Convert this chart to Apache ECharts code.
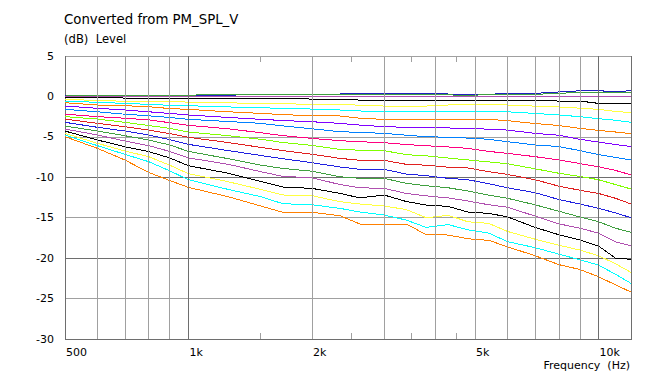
<!DOCTYPE html>
<html><head><meta charset="utf-8">
<script src="https://cdn.jsdelivr.net/npm/echarts@6/dist/echarts.min.js"></script>
<style>html,body{margin:0;padding:0;background:#fff}#c{width:654px;height:374px}
#c svg path,#c svg line,#c svg polyline,#c svg rect{shape-rendering:crispEdges}</style>
</head><body><div id="c"></div>
<script>
const freqs = [500, 600, 700, 800, 900, 1000, 1250, 1500, 1700, 2000, 2340, 2620, 3000, 3400, 3800, 4300, 4800, 5400, 6000, 7000, 8000, 9000, 10000, 11000, 12000];
const s01 = [0.1, 0.17, 0.17, 0.12, 0.12, 0.12, 0.15, 0.26, 0.26, 0.26, 0.3, 0.32, 0.38, 0.38, 0.38, 0.3, 0.26, 0.26, 0.38, 0.38, 0.55, 0.7, 0.7, 0.6, 0.7];
const s02 = [0.05, 0.1, 0.1, 0.12, 0.15, 0.17, 0.2, 0.2, 0.22, 0.26, 0.26, 0.26, 0.26, 0.26, 0.26, 0.2, 0.09, 0.26, 0.26, 0.26, 0.38, 0.5, 0.5, 0.5, 0.5];
const s03 = [0, 0, 0, 0, 0, 0, 0, 0, 0, 0, 0, 0, 0, 0, 0, 0, 0, 0, 0, 0, 0, 0, 0, 0, 0];
const s04 = [-0.1, -0.15, -0.2, -0.2, -0.2, -0.24, -0.28, -0.3, -0.3, -0.32, -0.36, -0.45, -0.53, -0.53, -0.53, -0.45, -0.45, -0.45, -0.45, -0.53, -0.57, -0.57, -0.86, -0.86, -0.86];
const s05 = [-0.36, -0.5, -0.6, -0.65, -0.65, -0.7, -0.8, -0.85, -0.9, -0.98, -0.94, -1.1, -1.19, -1.19, -1.19, -1.06, -1.06, -1.06, -1.06, -1.2, -1.3, -1.45, -1.6, -1.85, -2.0];
const s06 = [-0.57, -0.73, -0.86, -0.98, -1.1, -1.15, -1.3, -1.4, -1.48, -1.56, -1.68, -1.8, -1.89, -1.89, -1.85, -1.81, -1.81, -1.81, -1.9, -2.1, -2.3, -2.5, -2.75, -2.95, -3.2];
const s07 = [-0.78, -1.06, -1.15, -1.27, -1.5, -1.6, -1.9, -2.1, -2.25, -2.39, -2.42, -2.7, -2.84, -2.84, -2.84, -2.84, -2.84, -2.84, -3.0, -3.35, -3.6, -3.95, -4.2, -4.4, -4.6];
const s08 = [-1.19, -1.47, -1.68, -1.9, -2.1, -2.3, -2.6, -2.83, -2.98, -3.13, -3.33, -3.55, -3.74, -3.82, -3.82, -3.9, -3.95, -4.05, -4.16, -4.57, -4.8, -5.3, -5.65, -5.95, -6.2];
const s09 = [-1.6, -1.9, -2.2, -2.4, -2.6, -2.83, -3.1, -3.33, -3.65, -4.0, -4.36, -4.45, -4.57, -4.8, -4.98, -5.05, -5.15, -5.3, -5.6, -6.0, -6.2, -6.7, -7.2, -7.55, -7.87];
const s10 = [-2.2, -2.5, -2.7, -2.9, -3.25, -3.58, -4.0, -4.49, -4.85, -5.19, -5.47, -5.6, -5.72, -5.95, -6.1, -6.25, -6.42, -6.8, -7.04, -7.45, -7.85, -8.3, -8.7, -9.15, -9.7];
const s11 = [-2.5, -2.8, -3.2, -3.6, -3.95, -4.4, -4.85, -5.3, -5.7, -6.05, -6.55, -6.65, -6.71, -7.2, -7.35, -7.62, -7.85, -8.1, -8.33, -8.95, -9.5, -9.9, -10.3, -10.9, -11.45];
const s12 = [-2.8, -3.33, -3.74, -4.16, -4.6, -5.06, -5.7, -6.3, -6.7, -7.15, -7.66, -7.9, -7.91, -8.4, -8.5, -8.75, -8.85, -9.3, -9.65, -10.3, -11.1, -11.6, -12.0, -12.6, -13.3];
const s13 = [-3.2, -3.82, -4.28, -4.77, -5.35, -5.93, -6.7, -7.3, -7.7, -8.2, -8.72, -9.02, -9.02, -9.6, -9.8, -10.13, -10.3, -10.8, -11.3, -11.9, -12.75, -13.3, -13.84, -14.4, -15.0];
const s14 = [-3.66, -4.28, -4.86, -5.39, -6.0, -6.8, -7.7, -8.5, -8.9, -9.25, -9.93, -10.13, -10.13, -10.75, -11.05, -11.3, -11.7, -12.2, -12.6, -13.4, -14.2, -14.9, -15.5, -16.3, -16.81];
const s15 = [-4.03, -4.77, -5.52, -6.09, -6.8, -7.6, -8.4, -9.3, -9.9, -10.05, -10.9, -11.3, -11.37, -12.0, -12.3, -12.55, -12.93, -13.4, -13.7, -14.8, -15.75, -16.3, -16.9, -18.0, -18.46];
const s16 = [-4.28, -5.39, -6.22, -6.83, -7.6, -8.57, -9.5, -10.5, -11.2, -11.37, -11.99, -12.55, -12.19, -13.0, -13.43, -13.6, -14.3, -14.46, -14.9, -16.2, -17.1, -17.75, -18.5, -20.0, -20.15];
const s17 = [-4.57, -5.8, -6.75, -7.45, -8.5, -9.55, -10.55, -11.5, -12.19, -12.27, -13.02, -13.3, -13.55, -14.0, -15.0, -14.7, -15.5, -15.7, -16.7, -17.65, -18.4, -19.0, -19.7, -20.7, -21.76];
const s18 = [-4.77, -6.09, -7.16, -8.07, -9.2, -10.3, -11.5, -12.4, -13.27, -13.4, -13.84, -14.3, -14.67, -15.3, -16.2, -15.85, -16.5, -16.9, -17.96, -18.7, -19.5, -20.2, -20.85, -22.0, -23.12];
const s19 = [-4.98, -6.42, -7.87, -9.4, -10.4, -11.25, -12.4, -13.55, -14.33, -14.33, -14.75, -15.78, -15.78, -15.78, -17.1, -17.14, -17.6, -17.8, -18.6, -19.7, -20.8, -21.4, -22.3, -23.3, -24.2];

const seriesValues = [s01, s02, s03, s04, s05, s06, s07, s08, s09, s10, s11, s12, s13, s14, s15, s16, s17, s18, s19];
const seriesColors = ['#2020c0', '#40a040', '#b050b0', '#000000', '#ffff40', '#00ffff', '#ff8000', '#8000ff', '#0080ff', '#ff0080', '#80ff00', '#e02020',
                      '#2020e0', '#40a040', '#b050b0', '#000000', '#ffff40', '#00ffff', '#ff8000'];

const xTickLabels = [[500, '500'], [1000, '1k'], [2000, '2k'], [5000, '5k'], [10000, '10k']];
const minorGrid = [600, 700, 800, 900, 2000, 3000, 4000, 5000, 6000, 7000, 8000, 9000];
const majorGrid = [1000, 10000];
const shortTicks = [1500, 2500, 3500, 4500];

const FONT = 'DejaVu Sans';
const chart = echarts.init(document.getElementById('c'), null, {renderer: 'svg'});

const markData = [];
minorGrid.forEach(f => markData.push([{coord: [f, -30], lineStyle: {color: '#a0a0a0'}}, {coord: [f, 5]}]));
majorGrid.forEach(f => markData.push([{coord: [f, -30], lineStyle: {color: '#6e6e6e'}}, {coord: [f, 5]}]));
shortTicks.forEach(f => {
  markData.push([{coord: [f, -30], lineStyle: {color: '#a0a0a0'}}, {coord: [f, -29.2]}]);
  markData.push([{coord: [f, 5], lineStyle: {color: '#a0a0a0'}}, {coord: [f, 4.2]}]);
});

const series = [{
  type: 'line', data: [], z: 1, silent: true,
  markLine: {silent: true, symbol: 'none', animation: false, label: {show: false},
    lineStyle: {type: 'solid', width: 1}, data: markData}
}];
seriesValues.forEach((vals, i) => {
  series.push({
    type: 'line', z: 2, showSymbol: false, symbol: 'none', silent: true,
    lineStyle: {width: 1, color: seriesColors[i]}, itemStyle: {color: seriesColors[i]},
    data: freqs.map((f, k) => [f, vals[k]])
  });
});

chart.setOption({
  animation: false,
  textStyle: {fontFamily: FONT},
  grid: {left: 65, right: 23, top: 56, bottom: 35, show: true, borderColor: '#6e6e6e', borderWidth: 1, backgroundColor: 'transparent'},
  xAxis: {type: 'log', logBase: 10, min: 500, max: 12000,
    axisLine: {show: true, lineStyle: {color: '#6e6e6e'}}, axisTick: {show: false},
    axisLabel: {show: false}, splitLine: {show: false}, minorSplitLine: {show: false}},
  yAxis: {type: 'value', min: -30, max: 5, interval: 5,
    axisLine: {show: true, lineStyle: {color: '#6e6e6e'}}, axisTick: {show: false},
    axisLabel: {color: '#000', fontSize: 11, fontFamily: FONT, margin: 11},
    splitLine: {show: true, lineStyle: {color: ['#6e6e6e', '#a0a0a0'], width: 1}}},
  series: series
});

const gfx = [
  {type: 'text', left: 64, top: 13, style: {text: 'Converted from PM_SPL_V', font: '13.3px "' + FONT + '"', fill: '#000'}},
  {type: 'text', left: 64, top: 33, style: {text: '(dB)  Level', font: '11.6px "' + FONT + '"', fill: '#000'}}
];
xTickLabels.forEach(([f, t]) => {
  const p = chart.convertToPixel({xAxisIndex: 0, yAxisIndex: 0}, [f, -30]);
  gfx.push({type: 'text', x: p[0] + 1, y: p[1] + 13, style: {text: t, font: '11px "' + FONT + '"', fill: '#000', textAlign: 'left', textVerticalAlign: 'middle'}});
});
const pr = chart.convertToPixel({xAxisIndex: 0, yAxisIndex: 0}, [12000, -30]);
gfx.push({type: 'text', x: pr[0] - 1, y: pr[1] + 26, style: {text: 'Frequency  (Hz)', font: '11px "' + FONT + '"', fill: '#000', textAlign: 'right', textVerticalAlign: 'middle'}});
chart.setOption({graphic: gfx});
</script></body></html>
